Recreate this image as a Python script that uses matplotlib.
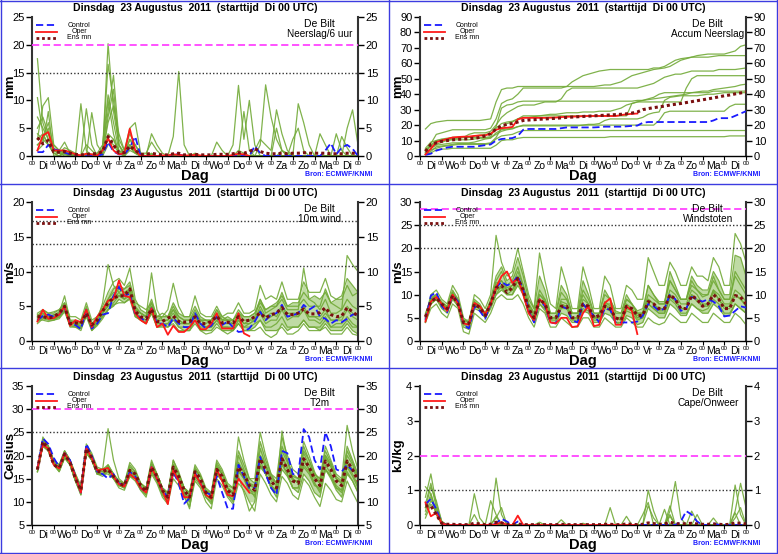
import numpy as np
import matplotlib
matplotlib.use('Agg')
import matplotlib.pyplot as plt
from matplotlib.lines import Line2D

# tijdstappen (uur na Di 00 UTC) en daglabels
steps = np.arange(6, 361, 6)
days = ['Di', 'Wo', 'Do', 'Vr', 'Za', 'Zo', 'Ma', 'Di', 'Wo', 'Do', 'Vr', 'Za', 'Zo', 'Ma', 'Di']

# ---------------- neerslag / 6 uur ----------------
rr_control = [0.7,0.7,2.0,1.2, 1.0,0.6,0.3,0, 0,0,0,0, 0.3,2.5,0.8,0.3, 0.3,1.5,3.5,0, 0,0,0,0, 0,0.3,0.3,0, 0,0,0,0,
              0,0,0,0, 0,0,0,0, 1.8,0.5,0,0, 0,0,0,0, 0,0,0,0, 0,1.0,2.3,0.3, 1.5,2.0,1.3,0]
rr_oper = [1.0,3.7,4.3,1.0, 1.0,1.0,0.7,0.3, 0.1,0.4,0.3,0.1, 1.0,3.2,1.0,0.3, 0.5,4.9,1.0,0, 0,0,0,0.1, 0.1,0.3,0.2,0.1,
           0.1,0.2,0.1,0, 0,0,0,0, 0.2,0.4,0.3,0]
rr_mean = [3.3,2.2,2.8,0.7, 0.7,0.8,0.5,0.3, 0.2,0.3,0.4,0.4, 0.8,3.5,2.0,0.6, 0.6,1.8,1.0,0.3, 0.3,0.5,0.3,0.2, 0.2,0.4,0.5,0.2,
           0.2,0.3,0.2,0.2, 0.2,0.3,0.3,0.3, 0.4,0.6,0.5,0.8, 1.3,0.8,0.5,0.4, 0.4,0.5,0.4,0.5, 0.5,0.6,0.5,0.5, 0.5,0.5,0.4,0.4,
           0.4,0.5,0.5,0.4]
rr_members = [
    [17.5,6,3,1, 0.5,0.3,0,0, 0,0.5,0.3,0.5, 1,20.2,8,2, 0.5,2,1,0, 0,0.3,0,0, 0,0,0,0, 0,0,0,0, 0,0,0,0, 0,0.5,0,0, 0,0,0,0, 0,1,0.5,0, 0,0,0,0, 0,0,0,0, 0,0,0,0],
    [3,9,10.5,2, 1,2.5,0.5,0, 0,0,0,0, 1.5,8,14.5,3, 1,5,6,0.5, 0,0,0,0, 0,0,0,0, 0,0,0,0, 0,0,0,0, 0,0,0,0, 0,2,12.8,7, 3,1,0,0, 0,0,0,0, 0,0,0,0, 0,0,0,0],
    [10.5,4,2,0.5, 0,1,0.5,0, 9.4,1,0,0.5, 2,11,6,1, 0,3,1,0, 0,4,2,0.5, 0,3.5,15.2,2, 0,0,0,0, 0,0,0,0, 0,0,0,0, 0,0,0,0, 0,0,0,0, 0,0,0,0, 0,0,0,0, 0,0,0,0],
    [5,7,4,1, 0.5,1.5,1,0.5, 0,8.5,2,0, 1,16.5,10,2, 0.5,3,2,0.5, 0.5,2.5,1,0, 0,0,0,0, 0,0.5,0,0, 0,0,0,0, 2,12.7,3,10, 2,0,0,0, 0,0,0,0, 0,0,0,0, 0,0,0,0, 0,0,0,0],
    [2,3,5,0.5, 0.5,1,0,0, 0,0,7.8,2, 0.5,10,4,0.5, 0,1.5,0.5,0, 0,0,0,0, 0,0,0,0, 0,0,0,0, 0,2.5,1,0, 0,0,0,0, 1,3,2,1, 8.3,4,1,0, 0,0,0,0, 4,2,0,0, 0,5,8.3,2],
    [1,2,8,0, 0,0.5,1,0, 0,0,0,0, 0.5,6,9,4, 1,4,2,0, 0,0,0,0, 0,0,0,0, 0,0,0,0, 0,0,0,0, 0,0,8,1, 0,0,0,0, 0,0,0,0, 9.4,6,2,0, 0,0,0,0, 0,0,0,0],
    [7,5,3,2, 1,0.5,0,0, 0,2,1,0, 0.5,4,3,1, 0.5,2,1,0, 0,0.5,0,0, 0,0,0,0, 0,0,0,0, 0,0,0,0, 0,0,0,0, 0,0,0,0, 0,0,0,3, 5,1,0,0, 0,0,0,0, 3.5,1.5,0,0],
    [3,4,2,1, 0.5,0.5,0.5,0, 0,0,0,0, 1,3,2,0.5, 0.5,1.5,1,0, 0,0,0,0, 0,0,0,0, 0,0,0,0, 0,0,0,0, 0,0,0,0, 0,0,0,0, 5,1,0,0, 0,0,0,0, 0,0,0,0, 0,0,0,0],
    [4,3,6,1.5, 0.5,0,0,0, 0,0,0,0, 0,7,12,2, 0,2,0.5,0, 0,0,0,0, 0,0,0,0, 0,0,0,0, 0,0,0,0, 0,0,0,0, 0,0,0,0, 0,0,0,0, 0,0,0,0, 0,0,0,0, 0,0,0,0],
    [2,3,2,0.5, 0,0.5,0,0, 0,0,0,0, 0,2,3,0.5, 0,1,0.5,0, 0,0,0,0, 0,0,0,0, 0,0,0,0, 0,0,0,0, 0,1,0.5,0, 0,0,0,0, 0,0,0,0, 0,0,0,0, 0,0,0,4, 1,0,0,0],
]

# ---------------- geaccumuleerde neerslag ----------------
acc_control = [0.7,1.5,3.5,4.5, 5.5,6.0,6.0,6.0, 6.0,6.0,6.5,7.0, 7.5,10.0,11.0,11.3, 11.6,13.0,17.0,17.5, 17.5,17.5,17.5,17.5,
               17.5,18.0,18.5,18.5, 18.5,18.5,18.5,18.5, 18.7,19.0,19.0,19.0, 19.0,19.2,19.5,19.7, 21.5,22.0,22.0,22.0,
               22.0,22.0,22.0,22.0, 22.0,22.0,22.0,22.0, 22.0,23.0,24.5,24.5, 24.5,26.0,27.5,29.0]
acc_oper = [1.0,4.7,9.0,10.0, 11.0,12.0,12.3,12.5, 12.6,13.0,13.3,13.4, 14.4,17.0,18.0,18.3, 18.8,23.7,24.7,24.7,
            24.7,24.7,24.7,24.8, 24.9,25.2,25.4,25.5, 25.6,25.8,25.9,25.9, 25.9,25.9,25.9,25.9, 26.5,27.0,27.3,27.5]
acc_mean = [3.0,7.5,8.5,9.5, 10.0,10.5,10.8,11.0, 11.2,11.5,12.0,13.0, 14.5,17.5,19.5,20.5, 21.0,22.0,23.0,23.3,
            23.5,23.8,24.0,24.2, 24.4,24.7,25.0,25.2, 25.4,25.6,25.8,26.0, 26.2,26.4,26.6,26.8, 27.0,27.3,27.8,28.5,
            30.0,30.7,31.3,31.8, 32.3,33.0,33.5,34.0, 34.6,35.2,35.8,36.4, 37.0,37.6,38.3,39.0, 39.5,40.2,40.8,41.5]
acc_members = [
    [17.5,21,22,22.5, 23,23,23,23, 23,23,23,23.5, 24,35,43,44, 44,45,45,45, 45,45,45,45, 45,45,45,45, 45,45,45,45, 45.5,46,46,47, 48,50,52,53, 54,55,56,56.5, 57,58,60,62, 63,64,65,65.5, 66,66,66,66, 67,68,71,72],
    [2,8,14,15, 16,17,17,17, 17,17,17,17, 18,24,34,36, 37,40,44,44, 44,44,44,44, 44,44,45,48, 50,52,53,54, 55,55.5,56,56, 56,56,56,56, 56,56,57,57, 58,60,62,63, 63.5,64,64,64, 64,64.5,65,65, 65,65,65,65],
    [5,9,10,10.5, 11,12,12,12, 14,15,15,15, 16,20,25,28, 30,32,33,33, 33,34,35,35, 35,37,42,44, 44,44,44,44, 44,44,44,44, 44,44,44,44, 45,46,47,49, 51,52,53,53, 54,55,55,55, 55,55,56,56, 56,56,56.5,57],
    [3,7,9,10, 10.5,11,11.5,12, 12,13,13.5,14, 14.5,18,21,22, 22.5,24,25,25, 25.5,26,26.5,27, 27,27.5,28,28, 28,28.5,28.5,28.5, 29,29,29,30, 31,33,34,35, 36,36.5,37,37.5, 38,38.5,39,39.5, 40,41,41.5,42, 42,43,43.5,44, 44.5,45,46,46.5],
    [2,5,7,7.5, 8,8.5,8.5,8.5, 8.5,9,10,11, 11.5,15,17,17.5, 18,19,19.5,19.5, 19.5,19.5,19.5,19.5, 19.5,19.5,19.5,19.5, 19.5,20,20.5,20.5, 21,23,24,24, 24,24,24,24, 25,27,28,28.5, 36,38,38.5,39, 39,39,39,39.5, 40,40,40.5,41, 41,41,41,41],
    [1,3,6,6.5, 7,7.5,8,8, 8,8,8,8, 8.5,12,18,21, 22,24,26,26, 26,26,26,26, 26,26,26,26, 26,26,26,26, 26,26,26,26, 26,26,34,35, 35,35,35,35, 35,35,35,35, 44,50,52,52, 52,52,52,52, 52,52,52,52],
    [4,6,7.5,9, 10,10.5,10.5,10.5, 10.5,11,11.5,11.5, 12,14,16,17, 17.5,19,20,20, 20,20,20,20, 20,20,20,20, 20,20,20,20, 20,20,20,20, 20,20,20,20, 20,20,20,23, 28,29,29,29, 29,29,29,29, 29,29,29,29, 32,33.5,33.5,33.5],
    [2,4,5,6, 6.5,7,7.5,7.5, 7.5,7.5,7.5,7.5, 8,11,13,13.5, 14,15.5,16.5,16.5, 16.5,16.5,16.5,16.5, 16.5,16.5,16.5,16.5, 16.5,16.5,16.5,16.5, 16.5,16.5,16.5,16.5, 16.5,16.5,16.5,16.5, 16.5,16.5,16.5,16.5, 16.5,16.5,16.5,16.5, 16.5,16.5,16.5,16.5, 16.5,16.5,16.5,16.5, 16.5,16.5,16.5,16.5],
    [4,7,10,11, 11.5,12,12,12, 12,12,12,12, 12.5,19,31,33, 33.5,35,35.5,35.5, 35.5,35.5,35.5,35.5, 35.5,35.5,35.5,35.5, 35.5,35.5,35.5,35.5, 35.5,35.5,35.5,35.5, 35.5,35.5,35.5,36, 36,37,38,40, 41,41,41,41, 41,41,41,41, 41,42,42,42, 42,42,42,42],
    [1,2,4,4.5, 4.5,5,5,5, 5,5,5,5, 5,7,10,10.5, 10.5,11.5,12,12, 12,12,12,12, 12,12,12,12, 12,12,12,12, 12,12,12.5,12.5, 12.5,12.5,12.5,12.5, 12.5,12.5,12.5,12.5, 12.5,12.5,12.5,12.5, 12.5,12.5,12.5,12.5, 12.5,12.5,12.5,12.5, 13,13,13,13],
]

# ---------------- 10m wind ----------------
ff_control = [3.0,3.6,3.8,3.5, 3.8,4.8,2.5,2.3, 1.7,4.5,1.8,2.5, 3.8,4.0,6.5,7.8, 6.5,6.8,3.8,3.3, 2.8,4.7,2.5,2.5,
              2.0,3.3,2.5,2.0, 2.0,4.0,2.5,1.8, 2.2,3.5,2.3,2.8, 2.0,1.3,1.4,1.8, 2.8,4.2,3.0,3.8, 4.0,5.2,3.5,3.7,
              4.0,5.2,4.5,5.0, 3.5,3.2,2.5,3.0, 2.7,3.2,3.8,3.8]
ff_oper = [2.8,4.5,3.2,3.3, 3.8,5.0,2.2,3.0, 2.7,4.5,2.0,3.5, 4.5,5.8,6.0,8.7, 6.5,6.3,4.0,3.0, 2.5,4.7,2.0,2.5,
           0.9,2.2,1.3,1.3, 2.0,3.0,1.7,1.7, 2.5,4.0,1.8,1.8, 1.8,4.0,1.1,0.7]
ff_mean = [3.5,3.5,3.3,3.5, 4.0,5.0,2.5,2.6, 2.5,4.0,2.3,3.0, 4.3,5.5,6.2,6.5, 6.5,7.5,4.3,3.5, 3.2,4.6,2.8,2.8,
           3.3,3.6,2.8,2.7, 2.8,3.5,2.5,2.5, 2.8,3.6,2.6,2.7, 2.6,3.5,2.8,3.0, 3.5,4.0,3.3,3.8, 4.0,4.8,3.8,3.8,
           4.0,4.6,3.9,3.9, 4.1,4.8,3.8,3.5, 3.6,4.8,4.2,3.6]
ff_members = [
    [3.5,4.5,4.0,4.2, 4.5,5.5,3.0,3.0, 2.5,5.0,2.5,3.5, 5.0,7.0,8.5,9.0, 8.0,10.5,6.0,4.5, 4.0,6.0,3.5,3.5, 3.5,5.0,3.5,3.0, 3.0,4.5,3.0,3.0, 3.0,4.5,3.5,3.0, 3.0,4.5,3.5,3.5, 4.0,6.0,4.5,5.0, 5.0,7.0,5.0,5.5, 5.5,7.0,6.0,6.5, 6.0,7.0,5.5,6.0, 6.5,9.0,8.0,7.0],
    [3.0,3.0,2.8,3.0, 3.5,4.5,2.0,2.0, 1.5,3.8,1.5,2.5, 3.5,4.5,5.0,6.0, 5.5,6.0,3.5,3.0, 2.5,4.0,2.0,2.0, 2.0,2.5,1.5,1.5, 1.5,3.0,1.5,1.5, 1.5,2.5,1.5,1.5, 1.5,2.5,1.5,1.5, 2.0,3.0,2.0,2.0, 2.5,3.5,2.0,2.0, 2.0,3.0,2.0,2.0, 1.5,2.5,1.5,1.5, 1.5,2.5,1.5,1.0],
    [3.8,4.0,3.5,3.8, 4.0,6.5,3.0,2.5, 2.0,4.0,2.0,3.0, 5.5,11.0,8.0,7.0, 7.5,8.0,5.0,4.0, 3.5,9.8,4.5,3.0, 3.0,4.0,3.0,2.5, 2.5,3.5,2.5,2.0, 2.5,3.5,2.5,2.5, 2.5,3.5,2.5,3.0, 3.5,6.0,4.0,4.5, 5.0,6.0,4.5,4.5, 4.5,10.5,6.0,5.5, 4.5,6.0,4.0,4.0, 4.5,12.3,11.0,10.0],
    [3.2,3.8,3.5,3.2, 3.6,4.8,2.5,2.8, 2.8,4.5,2.0,2.8, 4.0,5.5,6.5,7.5, 7.0,7.0,4.5,4.0, 3.5,5.5,3.0,3.5, 4.5,8.3,5.0,3.5, 3.5,5.0,3.5,3.0, 3.0,4.0,3.0,3.5, 3.0,4.0,3.0,3.0, 3.0,5.0,3.5,4.0, 3.5,5.0,3.5,4.0, 4.0,5.0,3.5,3.5, 3.5,4.5,3.0,3.0, 3.0,4.5,3.5,3.0],
    [2.5,3.2,3.0,3.0, 3.2,4.2,2.2,2.0, 1.8,3.5,1.5,2.2, 3.2,4.5,5.5,6.5, 6.0,6.5,3.5,3.0, 2.5,4.0,2.0,2.2, 2.5,3.5,2.0,2.0, 2.0,3.5,2.0,2.0, 2.0,3.0,2.0,2.0, 2.0,3.5,2.5,2.5, 3.0,4.0,2.5,3.0, 3.0,4.5,3.0,3.5, 3.5,4.5,3.0,3.0, 2.5,3.5,2.0,2.5, 2.5,3.5,2.5,2.0],
    [4.0,4.5,4.0,4.0, 4.5,5.5,3.5,3.5, 3.0,5.5,3.0,3.5, 4.5,6.0,7.5,8.0, 7.5,8.5,5.5,5.0, 4.5,5.5,3.5,4.0, 3.5,5.5,4.0,3.5, 3.5,6.5,4.0,3.5, 3.5,5.0,3.5,4.0, 4.0,5.5,4.0,4.0, 4.5,8.0,6.0,6.5, 6.0,8.5,6.0,6.0, 6.0,8.5,7.0,7.0, 7.0,9.0,6.5,6.0, 6.0,8.0,6.5,7.0],
    [3.0,3.5,3.2,3.5, 3.8,5.0,2.5,2.5, 2.0,4.2,2.0,2.5, 4.0,5.0,6.0,6.5, 6.5,7.0,4.0,3.5, 3.0,4.5,2.5,2.5, 2.5,3.5,2.5,2.5, 2.5,3.5,2.5,2.0, 2.0,3.0,2.0,2.0, 1.5,2.5,1.5,1.5, 1.5,2.0,1.0,0.5, 1.0,2.5,1.5,2.0, 2.0,3.0,2.0,2.0, 2.0,3.0,2.0,2.0, 2.0,3.0,2.0,2.0],
    [3.6,3.5,3.3,3.5, 4.0,5.0,2.8,2.5, 2.5,4.0,2.5,3.0, 4.5,6.0,7.0,6.5, 7.0,7.5,4.5,4.0, 3.5,5.0,3.0,3.0, 3.0,4.5,3.5,3.0, 3.0,4.0,3.0,2.5, 3.0,4.5,3.0,3.0, 3.0,4.0,3.5,3.5, 4.0,5.5,4.5,5.0, 5.5,6.5,5.0,5.0, 5.0,6.0,5.0,5.0, 5.0,7.5,5.5,5.0, 4.5,6.0,5.0,4.5],
    [3.4,4.0,3.6,3.6, 4.2,5.2,2.8,2.6, 2.2,4.6,2.2,2.8, 4.2,5.0,6.0,7.0, 6.0,7.5,4.8,4.0, 3.5,5.0,3.5,3.5, 3.5,4.5,3.0,2.5, 2.5,4.0,3.0,3.0, 2.5,3.5,3.0,3.0, 2.5,3.0,2.0,2.5, 3.0,4.5,3.0,3.5, 4.0,5.0,4.0,4.0, 3.5,4.5,3.5,3.5, 3.0,4.0,3.0,3.0, 3.5,5.0,4.0,3.5],
    [2.8,3.4,3.2,3.2, 3.4,4.4,2.4,2.2, 2.0,4.0,1.8,2.4, 3.6,4.5,5.2,5.5, 5.5,6.2,3.8,3.0, 2.8,4.2,2.5,2.5, 2.0,3.0,2.0,1.5, 1.5,2.5,1.5,1.0, 1.2,2.0,1.5,1.0, 1.5,3.0,2.0,2.0, 2.5,3.0,1.5,1.5, 1.5,2.0,1.0,1.0, 1.5,2.5,1.5,1.5, 1.5,2.0,1.0,1.0, 1.0,2.0,1.0,0.8],
]

# ---------------- windstoten ----------------
fx_control = [4.5,9.8,10.5,7.5, 6.2,10,8.5,3.5, 2.7,7.5,6.5,4.8, 8,11.5,12.8,12, 12.5,14,11,6.5, 4,9,7.5,4,
              3.8,7.5,7,4.5, 4,8,6.5,5.5, 4,7,6.8,4, 4,4,4,4.2, 5.5,8,7.5,6.5, 7,10,9,6.5,
              7,9.5,9,8.5, 9,8.5,7.5,5.3, 5.5,6.5,7.5,7.2]
fx_oper = [4.2,8.5,9.5,8.0, 6.5,10,8,3.8, 3.5,8.2,7.5,5.8, 8,11.5,14,15, 12.5,13.5,10,6, 4.5,9,8,4,
           3.8,5,5,3, 3.2,6,7.5,3.2, 3.5,8.2,9.2,3.5, 3.5,7.5,6.5,1.5]
fx_mean = [5.2,8.5,9.3,8, 7,9.8,8,4, 3.8,8.0,7.2,5.5, 8,11.5,12,10.5, 11.5,13.5,11,7, 5,9,8,5,
           5,7.5,7.5,5, 5,8,7.5,5, 5.5,7.5,7,5, 4.5,7.5,7,5.5, 5.5,8.5,8,7, 7,10,9,7,
           7,9.8,9,7.5, 8,10,9,7, 7,9.8,9.5,8]
fx_members = [
    [5,10,11,9, 8,12,10,5, 4,10,9,7, 10,22.8,17,14, 15,20,15,10, 7,19,13,8, 7,16,12,7, 7,16,12,7, 7,14,12,7, 7,12,11,9, 9,18,15,12, 12,17,15,12, 12,16,14,14, 13,18,16,12, 12,23.2,21,17],
    [4,7,8,6, 5,8,7,2, 1.5,6,5,4, 6,9,10,9, 9,10,8,5, 3,7,6,3, 3,5,4,3, 3,5,5,3, 3,5,4,3, 3,5,4,3, 3,5,4,3.5, 4,6,5,4, 4,6,5,4, 4,6,5,4, 4,6,5,3.5],
    [5,9,10,8, 7,10.5,8.5,4, 3.5,8.5,7.5,6, 8.5,13,15,12, 13,16,12,8, 6,11,9,5, 5,9,9,6, 6,10,8,5, 5,8,8,5, 5,9,8,6, 6,10,9,8, 8,13,11,9, 9,12,11,10, 10,14,11,9, 9,14,12,10],
    [6,9,9.5,8, 7,10,8,4.5, 4,8,7,5.5, 8,11,12,11, 12,14,11,7, 5,9,8,5, 5,8,7.5,5, 5,8,7,5, 6,8,7,5, 4.5,7,6.5,5, 5,8,7,6, 6,9,8,6, 6,8,7,6.5, 7,9,8,6, 6,8,7,6],
    [4.5,8,9,7.5, 6.5,9,7.5,3.5, 3,7.5,7,5, 7.5,10,11,10, 10,12,10,6, 4.5,8,7,4.5, 4.5,7,7,4.5, 4.5,7,6.5,4.5, 4.5,7,6.5,4, 4,6.5,6,4.5, 5,8,7,6, 6,10,9,7, 7,10,9,7.5, 8,11,9,7, 7,10,9,8],
    [5.5,9.5,10,8.5, 7.5,11,9,4.5, 4,9,8,6, 9,14,16,13, 14,18,14,9, 7,14,11,6, 6,12,10,6, 6,13,10,6, 6,11,9,6, 6,10,8,6, 6,12,10,8, 8,15,12,9, 9,14,12,11, 11,15,13,10, 10,18.5,18,14],
    [4,8,9,7, 6,9.5,7.5,3, 2.5,7,6.5,5, 7,10,12,10, 10,13,10,6, 4,8,6.5,4, 4,6,5.5,4, 4,6.5,6,4, 4,6,5.5,4, 3.5,5.5,5,3.5, 4,7,6,5, 5,8,7,5.5, 5.5,8,7,6, 6,8,7,5.5, 5.5,8,7,6],
    [5,9,9.5,8, 7,10,8.5,4, 3.5,8,7,5.5, 8,12,13,11, 11,14,11,7.5, 5.5,10,8.5,5, 5,8.5,8,5, 5,9,8,5, 5,8.5,7.5,5, 5,8,7,5.5, 6,9,8,7, 7,11,10,8, 8,11,10,8, 8,11,10,8, 8,11,10,8.5],
    [5,8.5,9,7.5, 7,9.5,8,3.8, 3.5,7.8,7,5, 7.8,11,11.5,10, 11,13,10.5,7, 5,9,7.5,5, 5,7.5,7.5,5, 5,8,7,5, 5,7.5,7,5, 4.5,7.5,7,5, 5.5,9,8,6.5, 6.5,9.5,8.5,7, 7,10,8.5,7.5, 7.5,10.5,9,7.5, 7.5,10,9,7.5],
    [5.5,9,10,8, 7.5,10.5,9,4.5, 4.5,8.5,7.5,6, 8.5,12.5,13,11.5, 12,15,12,8, 6,10,9,6, 6,10.5,9,6, 6,11,9,6, 6,10,9,6.5, 6,9,8,6.5, 7,12,10,8.5, 8.5,13,11,9, 9,13,11,9.5, 10,13,11,9, 9,15,13,11],
]

# ---------------- T2m ----------------
t2_control = [17,23.7,22.5,19.5, 17.5,20.5,19,15.5, 12,22.5,20,16.5, 16,15,16,14, 13.5,16.5,15.5,13, 12,17.5,15,12.5,
              11,16.5,14,9.6, 10.8,16.3,14,12, 11.5,15.5,12,8.6, 8.5,18,15.5,13, 13,19.7,16,13, 11.5,21,20.5,16,
              15.8,25.7,24,19, 17,25,22,17, 16.5,18,16.7,16.7]
t2_oper = [17.2,22.3,21.5,18, 17.2,20.5,18.5,15.5, 12,21.5,19.5,16.8, 17,17.3,15.5,13.8, 13.3,16,15,13, 12,17.5,15,12.5,
           9.5,16.8,14.5,11, 11,16,14,11.5, 10.7,17,14.5,11.5, 11.2,15,13.5,12]
t2_mean = [17,23,21.5,18, 17.3,20.3,18.5,15, 12.5,21.5,19.5,16.5, 16.5,17,15.5,14, 13.5,16.8,16,13.5, 12.3,17.5,15.5,12.5,
           11,17.5,15.5,12.5, 11,16.5,15,12, 11,17,15.5,12.5, 11.5,17.5,16,13.5, 12.5,19.3,17,14.5, 13,19.3,17,14.5,
           14,19.3,17.5,15, 13.5,18.8,17,14.5, 13.5,18.8,17,14.5]
t2_members = [
    [17,24,22,19, 18,21,19,16, 13,22,20,17, 17,25.8,19,15, 14,18,16.5,14, 13,19,16,13, 12,19,16.5,13, 12,18,16,13, 12,19,17,14, 13,21,18,15, 14,23,19,16, 15,24,20,17, 16,21,19,16, 15,22,19,16, 15,26.5,21,17],
    [17,22,21,18, 16.5,19.5,18,14.5, 11.5,20.5,19,16, 16,16,15,13.5, 13,15.5,15,12.5, 11,16,14,11, 9.5,15,13.5,11, 9,14.5,13,10, 8.5,15,13.5,11, 9.5,14,12.5,10, 8,16,14,11.5, 10,15.5,14,11.5, 10.5,15,13.5,11, 9,14,12.5,10.5, 10,14.5,12,9.7],
    [16.5,23.5,22,18.5, 17.5,21,19,15.5, 12,21,19.5,17, 16.5,17.5,16,14.5, 14,18.5,17,14, 13,18.5,16,13, 11.5,19,16,13, 12,17.5,15.5,12.5, 11,16,14.5,12, 12,20,17,14, 13,21.5,18,15, 14,22,19,16, 15,23,20,16.5, 14,20,18,15, 14,21,18.5,15.5],
    [17,22.5,21,18, 17,20,18.5,15, 13,21.5,19,16, 16,18,16,14, 13.5,17,16,13.5, 12,18,15.5,12, 10.5,17.5,15,12, 10,15.5,14,11.5, 10.5,18,16,13, 12,17,15.5,13, 11,18,16,13.5, 12,17,15.5,13, 13,18,16.5,14, 12,17,15.5,13, 12,16,14.5,12],
    [17.5,23,22,19, 18,21,19,16, 13.5,22.5,20.5,17.5, 17,18,16,14, 13,16,15,13, 12.5,17,15,12, 11,18,16,13, 11.5,17,15.5,12.5, 12,18.5,16.5,13.5, 13,24,19,15, 15,25,20,16, 14,20,17.5,15, 14,19,17,15, 14,19.5,17.5,15, 14,19,17,15],
    [16.5,22,21,18, 17,19.5,18,14.5, 12,20.5,19,16, 16,16.5,15,13.5, 13,16,15.5,13, 11.5,16.5,14.5,11.5, 10,16,14.5,11.5, 10.5,16,14.5,11.5, 10.5,16.5,15,12, 11,16.5,15,12.5, 12,17.5,16,13.5, 12.5,25.3,19,15, 14,17.5,16,13.5, 13,17,15.5,13, 12.5,17.5,15.5,13],
    [17,23.5,22,18.5, 17.5,20.5,19,15.5, 12.5,21.5,20,17, 17,17.5,16,14.5, 14,17.5,16.5,14, 13,18,16,13, 12,18,16,13, 11.5,17,15.5,12.5, 11.5,17.5,16,13, 12,18.5,16.5,14, 13.5,20,18,15.5, 14,21,18.5,15.5, 15,22,19,16, 15,21,18.5,15.5, 14.5,22,19,16],
    [17,22.5,21.5,18, 17,20,18,14.5, 12,21,19,16, 16,17,15.5,14, 13,16.5,15.5,13, 12,17,15,12, 10.5,16.5,15,12, 10,15,13.5,11, 10,16,14.5,11.5, 10,15.5,12,8, 10,19,16,13, 12,18,16,13, 12,16,14.5,12, 11,17,15,12.5, 11,16.5,14.5,12],
    [17,23,22,18.5, 17,20.5,18.5,15, 13,22,20,17, 16.5,17.5,16,14, 14,17,16,14, 12.5,18,16,13, 11.5,17,15,12, 11,17,15.5,12.5, 11.5,17.5,16,13, 12,18,16.5,13.5, 13,20,17.5,14.5, 13.5,19.5,17,14.5, 14.5,20.5,18,15.5, 14,20,18,15, 14,20,18,15],
    [16.5,22.5,21,18, 16.5,19.5,18,14.5, 11.5,21,19,16, 15.5,16.5,15,13, 12.5,15.5,14.5,12.5, 11.5,16.5,14.5,11.5, 10,16.5,14.5,11.5, 8.5,16,14,11, 9.5,16.5,14.5,11.5, 10.5,17,15,12, 11.5,18,16,13, 11,18.5,16,13, 13,19.5,17,14, 12.5,18,16,13.5, 12.5,18,16,13.5],
]

# ---------------- CAPE ----------------
cape_control = [0.6,0.75,0.45,0.05, 0,0,0,0, 0,0,0,0, 0,0.05,0.18,0.1, 0,0.1,0,0, 0,0,0,0, 0,0,0,0, 0,0,0,0,
                0,0,0,0, 0,0,0,0, 0,0,0,0, 0,0,0,0.1, 0.4,0.3,0.1,0, 0,0.05,0,0, 0,0,0,0]
cape_oper = [0.65,0.25,0.35,0.05, 0,0,0,0, 0,0,0,0, 0,0.02,0.08,0, 0,0.27,0,0, 0,0,0,0, 0,0,0,0, 0,0,0,0,
             0,0,0,0, 0,0,0,0]
cape_mean = [0.55,0.55,0.3,0.05, 0.02,0.02,0.01,0.01, 0.01,0.05,0.03,0.01, 0.02,0.08,0.06,0.02, 0.01,0.03,0.01,0.01,
             0.01,0.01,0.01,0.01, 0.01,0.02,0.01,0.01, 0.01,0.01,0.01,0.01, 0.01,0.02,0.02,0.01, 0.01,0.03,0.02,0.01,
             0.02,0.06,0.04,0.02, 0.03,0.08,0.04,0.03, 0.04,0.05,0.03,0.02, 0.02,0.03,0.02,0.01, 0.02,0.06,0.05,0.03]
cape_members = [
    [0.8,1.47,0.6,0.1, 0,0,0,0, 0,0.9,0.2,0, 0,0,0,0, 0,0,0,0, 0,0,0,0, 0,0,0,0, 0,0,0,0, 0,0,0,0, 0,0,0,0, 0,0,0,0, 0,0.3,0,0, 0,0,0,0, 0,0,0,0, 0,0,0,0],
    [1.1,0.9,0.4,0.05, 0,0,0,0, 0,0,0,0, 0,1.35,0.3,0, 0,0,0,0, 0,0,0,0, 0,0,0,0, 0,0,0,0, 0,0,0,0, 0,0,0,0, 0,0,0,0, 0,0.4,1.25,0.2, 0,0,0,0, 0,0,0,0, 0,0,0,0],
    [0.5,1.1,0.7,0.1, 0,0,0,0, 0,0,0,0, 0.7,0.3,0,0, 0,0,0,0, 0,0,0,0, 0,0,0,0, 0,0,0,0, 0,0,0,0, 0,0,0,0, 0,1.0,0.4,0, 0,0,0,0, 0,0,0,0, 0,0,0,0, 0,1.15,0.3,0],
    [0.4,0.9,0.3,0.05, 0,0,0,0, 0,0,0,0, 0,0.2,0.5,0, 0,0,0,0, 0,0,0,0, 0,0,0,0, 0,0,0,0, 0,0,0.5,0, 0,0,0,0, 0,0,0,0, 0,0.55,0,0, 0,0,0,0, 0,0,0,0, 0,0.4,1.2,0.5],
    [0.3,0.7,0.5,0.1, 0,0,0,0, 0,0.3,0,0, 0,0,0,0, 0,0,0,0, 0,0,0,0, 0,0.15,0,0, 0,0,0,0, 0,0,0,0, 0,0,0,0, 0,0.55,0.2,0, 0,0,0,0, 0,0.4,0.1,0, 0,0.2,0,0, 0,0,0,0],
    [0.6,1.2,0.5,0, 0,0,0,0, 0,0,0,0, 0,0.25,0,0, 0,0,0,0, 0,0,0,0, 0,0,0,0, 0,0,0,0, 0,0,0,0, 0,0.25,0,0, 0,0,0,0, 0.45,0,0,0, 0,0,0,0, 0,0,0,0, 0,0.35,0,0],
    [0.2,0.6,0.4,0.05, 0,0,0,0, 0,0,0,0, 0,0,0,0, 0,0,0,0, 0,0.08,0,0, 0,0,0,0, 0,0,0,0, 0,0,0,0, 0,0,0,0, 0.3,0.65,0,0, 0,0,0,0, 0,0,0.3,0, 0,0,0,0, 0,0,0,0],
    [0.5,0.8,0.3,0.02, 0,0,0,0, 0,0,0,0, 0,0,0,0, 0,0,0,0, 0,0,0,0, 0,0,0,0, 0,0.05,0,0, 0,0,0,0, 0,0,0,0, 0,0,0,0, 0,0.25,0,0, 0,0,0,0, 0,0,0,0, 0,0.2,0.5,0],
]

GREEN = '#72aa38'
BAND = '#95c468'
BLUE = '#1a1aff'
RED = '#ff1a1a'
MAROON = '#7a1010'
MAGENTA = '#ff44ff'
FRAME = '#3c3ce0'

x = steps / 24.0

plt.rcParams['font.family'] = ['Liberation Sans', 'DejaVu Sans']
fig = plt.figure(figsize=(7.78, 5.54), dpi=100)


def line(ax, yvals, **kw):
    n = min(len(x), len(yvals))
    ax.plot(x[:n], yvals[:n], **kw)


def panel(rect, members, control, oper, mean, ylim, ystep, ylabel, name,
          magenta=None, dotted=(), band=False):
    ax = fig.add_axes(rect)
    if band:
        # kern van de pluim: tussen op-een-na-laagste en op-een-na-hoogste lid
        srt = np.sort(np.array([m[:60] for m in members], dtype=float), axis=0)
        ax.fill_between(x, srt[1], srt[-2], color=BAND, alpha=0.6, lw=0, zorder=1)
    for m in members:
        line(ax, m, color=GREEN, lw=0.9, alpha=0.9, zorder=2)
    for lv in dotted:
        ax.axhline(lv, color='#333333', lw=1.0, ls=(0, (1, 1.5)), zorder=3)
    if magenta is not None:
        ax.axhline(magenta, color=MAGENTA, lw=1.3, ls=(0, (4, 2)), zorder=3)
    line(ax, control, color=BLUE, lw=1.3, ls=(0, (4, 2)), zorder=4)
    line(ax, oper, color=RED, lw=1.3, zorder=5)
    line(ax, mean, color=MAROON, lw=2.2, ls=(0, (1, 1)), zorder=6)

    ax.set_xlim(0, 15)
    ax.set_ylim(*ylim)
    ax.set_yticks(np.arange(ylim[0], ylim[1] + 0.01, ystep))
    ax.tick_params(axis='y', which='both', labelsize=8, length=4, width=1,
                   left=True, right=True, labelleft=True, labelright=True, pad=1.5)
    ax.set_xticks(np.arange(16), ['00'] * 16)
    ax.set_xticks(np.arange(15) + 0.5, days, minor=True)
    ax.tick_params(axis='x', which='major', labelsize=4.5, length=3, pad=0.5)
    ax.tick_params(axis='x', which='minor', labelsize=7.5, length=0, pad=3.5)
    for s in ('left', 'right'):
        ax.spines[s].set_color('#333333')
        ax.spines[s].set_linewidth(1.5)
    ax.spines['top'].set_visible(False)
    ax.spines['bottom'].set_linewidth(1.0)

    ax.set_ylabel(ylabel, fontsize=9.5, fontweight='bold')
    ax.yaxis.label.set_va('center')
    ax.yaxis.set_label_coords(-0.066, 0.5)
    ax.set_xlabel('Dag', fontsize=10.5, fontweight='bold')
    ax.xaxis.label.set_va('center')
    ax.xaxis.set_label_coords(0.5, -0.142)

    ax.text(0.5, 1.066, 'Dinsdag  23 Augustus  2011  (starttijd  Di 00 UTC)', transform=ax.transAxes,
            ha='center', va='center', fontsize=7.6, fontweight='bold')
    ax.text(0.883, 0.948, 'De Bilt', transform=ax.transAxes, ha='center', va='center', fontsize=7.5)
    ax.text(0.883, 0.876, name, transform=ax.transAxes, ha='center', va='center', fontsize=7.2)
    ax.text(1.043, -0.13, 'Bron: ECMWF/KNMI', transform=ax.transAxes, ha='right', va='center',
            fontsize=5, color='#1a1aff', fontweight='bold')

    # legenda
    rows = [(0.942, 'Control', dict(color=BLUE, lw=1.3, ls=(0, (4, 2)))),
            (0.894, 'Oper', dict(color=RED, lw=1.3)),
            (0.849, 'Ens mn', dict(color=MAROON, lw=2.0, ls=(0, (1, 1))))]
    for yy, lab, st in rows:
        ax.plot([0.012, 0.077], [yy, yy], transform=ax.transAxes, clip_on=False, zorder=7, **st)
        ax.text(0.144, yy, lab, transform=ax.transAxes, ha='center', va='center', fontsize=5, zorder=7)
    return ax


W, H = 778.0, 554.0
cols = [32 / W, 420 / W]
aw = 326 / W
ah = 139 / H
rows_b = [1 - 156 / H, 1 - 341 / H, 1 - 525 / H]

panel([cols[0], rows_b[0], aw, ah], rr_members, rr_control, rr_oper, rr_mean, (0, 25), 5, 'mm',
      'Neerslag/6 uur', magenta=20, dotted=(15,))
panel([cols[1], rows_b[0], aw, ah], acc_members, acc_control, acc_oper, acc_mean, (0, 90), 10, 'mm',
      'Accum Neerslag')
panel([cols[0], rows_b[1], aw, ah], ff_members, ff_control, ff_oper, ff_mean, (0, 20), 5, 'm/s',
      '10m wind', dotted=(10.8, 13.9, 17.2), band=True)
panel([cols[1], rows_b[1], aw, ah], fx_members, fx_control, fx_oper, fx_mean, (0, 30), 5, 'm/s',
      'Windstoten', magenta=28.5, dotted=(20, 25), band=True)
panel([cols[0], rows_b[2], aw, ah], t2_members, t2_control, t2_oper, t2_mean, (5, 35), 5, 'Celsius',
      'T2m', magenta=30, dotted=(25,), band=True)
panel([cols[1], rows_b[2], aw, ah], cape_members, cape_control, cape_oper, cape_mean, (0, 4), 1, 'kJ/kg',
      'Cape/Onweer', magenta=2, dotted=(1,))

# kaders tussen de panelen
for seg in [([389 / W, 389 / W], [0, 1]),
            ([0, 1], [1 - 183.5 / H, 1 - 183.5 / H]),
            ([0, 1], [1 - 367.5 / H, 1 - 367.5 / H]),
            ([0.5 / W, 0.5 / W], [0, 1]), ([1 - 1.5 / W, 1 - 1.5 / W], [0, 1]),
            ([0, 1], [1 - 0.5 / H, 1 - 0.5 / H]), ([0, 1], [1.5 / H, 1.5 / H])]:
    fig.add_artist(Line2D(seg[0], seg[1], color=FRAME, lw=1.0, transform=fig.transFigure))

fig.savefig('out.png', dpi=100)
